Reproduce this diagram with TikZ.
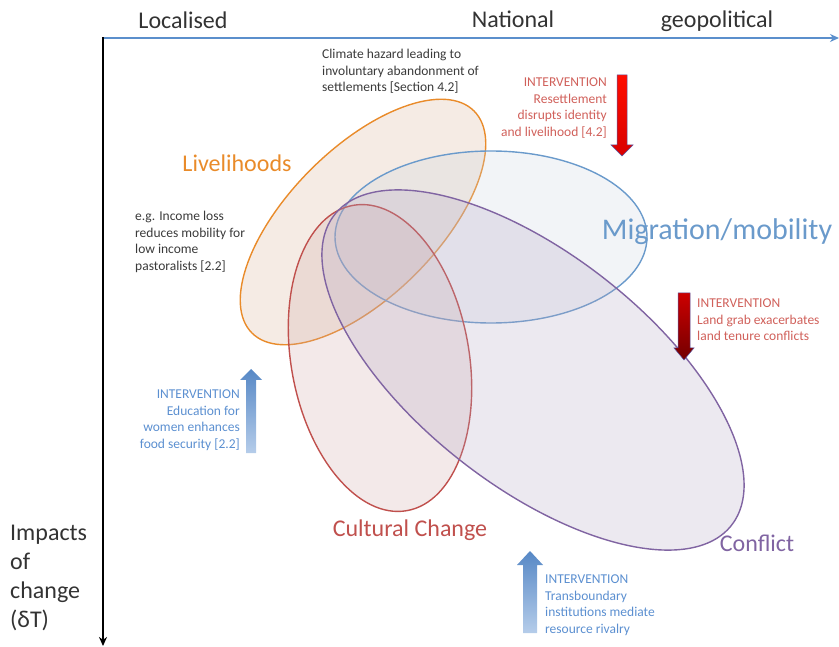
\documentclass[tikz,border=0pt]{standalone}
\usepackage{fontspec}
\setmainfont{Carlito}
\usetikzlibrary{arrows.meta}
\definecolor{axisblue}{HTML}{5B8FCC}
\definecolor{orgline}{HTML}{E98B2A}
\definecolor{orgfill}{HTML}{D7AF93}
\definecolor{blueline}{HTML}{6A9ACB}
\definecolor{bluefill}{HTML}{CBD3DF}
\definecolor{redline}{HTML}{C0504D}
\definecolor{redfill}{HTML}{CFA7A7}
\definecolor{purpline}{HTML}{8064A2}
\definecolor{purpfill}{HTML}{B3A7C3}
\definecolor{notegray}{HTML}{3A3A3A}
\definecolor{intred}{HTML}{D0605A}
\definecolor{intblue}{HTML}{5B8FD0}
\definecolor{biglbl}{HTML}{333333}
\begin{document}
\begin{tikzpicture}[x=1pt,y=-1pt,
  bigtext/.style={font=\fontsize{24}{29}\selectfont, inner sep=0pt},
  smalltext/.style={font=\fontsize{13.5}{16.5}\selectfont, inner sep=0pt},
  region/.style={line width=1.4pt, fill opacity=0.25},
  rarrow/.style={draw=blue!30!gray, line width=0.5pt},
  barrow/.style={draw=none}]
\useasboundingbox (0,0) rectangle (839,647);

% axes
\draw[axisblue, line width=1.5pt, -{Stealth[length=9pt,width=8pt]}] (103,38) -- (839,38);
\draw[black, line width=1.5pt, -{Stealth[length=9pt,width=8pt]}] (103,37.3) -- (103,646);

% axis labels
\node[bigtext, text=biglbl] (loc) at (183,20) {Localised};
\node[bigtext, text=biglbl] (nat) at (513,19) {National};
\node[bigtext, text=biglbl] (geo) at (717,21) {geopolitical};
\node[bigtext, text=biglbl, anchor=north west, align=left] (imp) at (10,525) {Impacts\\of\\change\\(δT)};

% ellipses
\begin{scope}[shift={(363,222)}, rotate=45]
  \draw[region, draw=orgline, fill=orgfill] (0,0) ellipse [x radius=157pt, y radius=74pt];
\end{scope}
\draw[region, draw=blueline, fill=bluefill] (491,237) ellipse [x radius=156pt, y radius=86pt];
\begin{scope}[shift={(380,358)}, rotate=10]
  \draw[region, draw=redline, fill=redfill] (0,0) ellipse [x radius=89pt, y radius=155pt];
\end{scope}
\begin{scope}[shift={(533,370)}, rotate=-38]
  \draw[region, draw=purpline, fill=purpfill] (0,0) ellipse [x radius=252pt, y radius=116pt];
\end{scope}

% ellipse labels
\node[bigtext, text=orgline] (liv) at (237,163) {Livelihoods};
\node[bigtext, text=blueline, font=\fontsize{30}{34}\selectfont] (mig) at (717,232) {Migration/mobility};
\node[bigtext, text=redline] (cul) at (410,530) {Cultural Change};
\node[bigtext, text=purpline] (con) at (757,543) {Conflict};

% notes
\node[smalltext, text=notegray, anchor=north west, align=left] (clim) at (322,49)
  {Climate hazard leading to\\involuntary abandonment of\\settlements [Section 4.2]};
\node[smalltext, text=notegray, anchor=north west, align=left] (inc) at (135,211)
  {e.g. Income loss\\reduces mobility for\\low income\\pastoralists [2.2]};

% interventions
\node[smalltext, text=intred, anchor=north east, align=right] (res) at (607,78)
  {INTERVENTION\\Resettlement\\disrupts identity\\and livelihood [4.2]};
\node[smalltext, text=intred, anchor=north west, align=left] (land) at (697,299)
  {INTERVENTION\\Land grab exacerbates\\land tenure conflicts};
\node[smalltext, text=intblue, anchor=north east, align=right] (edu) at (240,390)
  {INTERVENTION\\Education for\\women enhances\\food security [2.2]};
\node[smalltext, text=intblue, anchor=north west, align=left] (trans) at (545,575)
  {INTERVENTION\\Transboundary\\institutions mediate\\resource rivalry};

% block arrows
\shade[rarrow, top color=red!90!orange, bottom color=red!85!black]
  (617,75) -- (627,75) -- (627,145) -- (633,145) -- (622,156) -- (611,145) -- (617,145) -- cycle;
\shade[rarrow, top color=red!80!black, bottom color=red!45!black]
  (678,293) -- (690,293) -- (690,348) -- (694,348) -- (684,360) -- (674,348) -- (678,348) -- cycle;
\shade[barrow, top color=intblue!95!black, bottom color=intblue!45]
  (251,369) -- (262,380) -- (256,380) -- (256,453) -- (246,453) -- (246,380) -- (240,380) -- cycle;
\shade[barrow, top color=intblue!95!black, bottom color=intblue!45]
  (530,551) -- (543,565) -- (537,565) -- (537,633) -- (523,633) -- (523,565) -- (517,565) -- cycle;
\end{tikzpicture}
\end{document}
